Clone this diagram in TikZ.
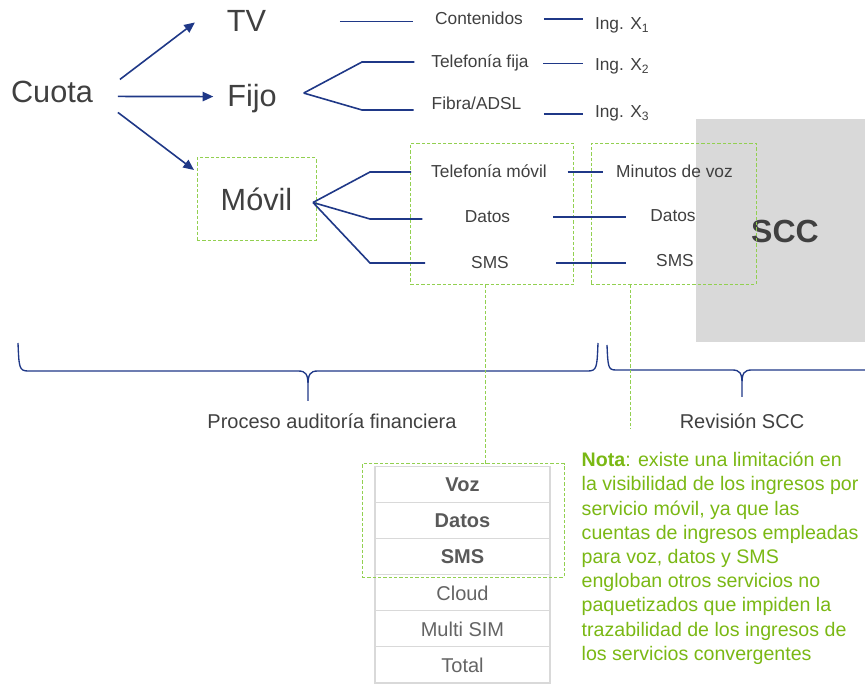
\documentclass[tikz,border=0pt]{standalone}
\usepackage{fontspec}
\setmainfont{Liberation Sans}
\usetikzlibrary{arrows.meta,positioning}
\definecolor{navy}{RGB}{31,56,135}
\definecolor{lgreen}{RGB}{146,208,80}
\definecolor{ngreen}{RGB}{122,184,20}
\definecolor{dgray}{RGB}{64,64,64}
\definecolor{mgray}{RGB}{89,89,89}
\definecolor{rgray}{RGB}{100,100,100}
\definecolor{cellline}{RGB}{217,217,217}
\definecolor{sccgray}{RGB}{217,217,217}
\begin{document}
\begin{tikzpicture}[x=0.75pt,y=-0.75pt,
      every node/.style={inner sep=0pt,outer sep=0pt,text=dgray},
      big/.style={anchor=base,font=\fontsize{23}{23}\selectfont},
      lbl/.style={anchor=base,font=\fontsize{13}{13}\selectfont},
      ln/.style={navy,line width=1.2pt},
      arr/.style={ln,-{Triangle[length=8pt,width=7pt]}},
      brc/.style={navy,line width=1pt},
      grn/.style={lgreen,line width=0.75pt,dash pattern=on 2.5pt off 1.5pt},
      grnbox/.style={draw=lgreen,line width=0.75pt,dash pattern=on 2.5pt off 1.5pt},
      cell/.style={draw=cellline,line width=0.8pt,minimum width=131.25pt,
        minimum height=27.04pt,text=rgray,font=\fontsize{15}{15}\selectfont},
      bcell/.style={cell,text=mgray,font=\fontsize{15}{15}\selectfont\bfseries}]
      \path[use as bounding box](0,0)rectangle(865,684);
      \clip(0,0)rectangle(865,684);
      \fill[sccgray](696,119.5)rectangle(870,342.5);
      \node[anchor=base,font=\fontsize{24}{24}\selectfont\bfseries](scc)at(785,243){SCC};
      \node[big](cuota)at(52,103){Cuota};
      \node[big](tv)at(246.5,32){TV};
      \node[big](fijo)at(252,107){Fijo};
      \node[grnbox,minimum width=89.25pt,minimum height=62.25pt,
        font=\fontsize{23}{23}\selectfont](movil)at(256.5,199.5){Móvil};
      \draw[arr]([shift={(27,-13)}]cuota.east)--([shift={(-32,1)}]tv.west);
      \draw[arr]([shift={(25,4)}]cuota.east)--([shift={(-14,-2.5)}]fijo.west);
      \draw[arr]([shift={(25,20)}]cuota.east)--([shift={(-3,12)}]movil.north west);
      \node[lbl](cont)at(479,25){Contenidos};
      \node[lbl](telfija)at(480,68){Telefonía fija};
      \node[lbl](fibra)at(476.5,110){Fibra/ADSL};
      \node[lbl,anchor=base west](ing1)at(595,30){Ing. X\textsubscript{1}};
      \node[lbl,anchor=base west](ing2)at(595,71){Ing. X\textsubscript{2}};
      \node[lbl,anchor=base west](ing3)at(595,118){Ing. X\textsubscript{3}};
      \draw[ln,shorten <=55.4pt,shorten >=16.3pt](tv.east)--(tv.east -| cont.west);
      \coordinate(fv)at([shift={(27,-6)}]fijo.east);
      \coordinate(e1)at(362,62);
      \coordinate(e2)at(362,110);
      \draw[ln,shorten >=12.7pt](fv)--(e1)--(e1 -| telfija.west);
      \draw[ln,shorten >=13.6pt](fv)--(e2)--(e2 -| fibra.west);
      \draw[ln,shorten <=15.8pt,shorten >=9pt](cont.east)--(cont.east -| ing1.west);
      \draw[ln,shorten <=10.8pt,shorten >=9pt](telfija.east)--(telfija.east -| ing2.west);
      \draw[ln,shorten <=17pt,shorten >=9pt](fibra.east |- ing3.west)--(ing3.west);
      \node[grnbox,minimum width=122.5pt,minimum height=105.75pt](boxA)at(492.25,213.8){};
      \node[grnbox,minimum width=123.75pt,minimum height=105.75pt](boxB)at(673.5,213.8){};
      \node[lbl](telmov)at(489,178){Telefonía móvil};
      \node[lbl](datosA)at(487.5,223){Datos};
      \node[lbl](smsA)at(490,269){SMS};
      \node[lbl](minutos)at(674.5,177.7){Minutos de voz};
      \node[lbl](datosB)at(673,222){Datos};
      \node[lbl](smsB)at(675,267){SMS};
      \coordinate(mv)at([shift={(-3,3)}]movil.east);
      \coordinate(m1)at(370,172);
      \coordinate(m2)at(370,219);
      \coordinate(m3)at(370,263);
      \draw[ln,shorten >=15pt](mv)--(m1)--(m1 -| telmov.west);
      \draw[ln,shorten >=31.8pt](mv)--(m2)--(m2 -| datosA.west);
      \draw[ln,shorten >=34.5pt](mv)--(m3)--(m3 -| smsA.west);
      \draw[ln,shorten <=15.6pt,shorten >=10.1pt](telmov.east)--(telmov.east -| minutos.west);
      \draw[ln,shorten <=32.2pt,shorten >=18.3pt](datosA.east)--(datosA.east -| datosB.west);
      \draw[ln,shorten <=35.4pt,shorten >=22.6pt](smsA.east)--(smsA.east -| smsB.west);
      \draw[brc](18,343)..controls(19,367)and(19,371)..(28,371)--(298,371)
        ..controls(306,371)and(308,374)..(308,386)--(308,401)--(308,386)
        ..controls(308,374)and(310,371)..(318,371)--(588,371)
        ..controls(597,371)and(597,367)..(598,343);
      \draw[brc](607,345)..controls(608,367)and(608,370)..(616,370)--(732,370)
        ..controls(740,370)and(742,373)..(742,384)--(742,397)--(742,384)
        ..controls(742,373)and(744,370)..(752,370)--(868,370)
        ..controls(876,370)and(876,367)..(877,345);
      \node[anchor=base,font=\fontsize{15}{15}\selectfont](proceso)at(332,429)
      {Proceso auditoría financiera};
      \node[anchor=base,font=\fontsize{15}{15}\selectfont](revision)at(742,429)
      {Revisión SCC};
      \node[bcell](voz)at(462.5,484.7){Voz};
      \node[bcell,below=0pt of voz](datosT){Datos};
      \node[bcell,below=0pt of datosT](smsT){SMS};
      \node[cell,below=0pt of smsT](cloud){Cloud};
      \node[cell,below=0pt of cloud](multi){Multi SIM};
      \node[cell,below=0pt of multi](total){Total};
      \node[grnbox,minimum width=151.5pt,minimum height=84.75pt](tabbox)at(463,520.5){};
      \draw[grn]([xshift=-4.7pt]boxA.south)--([xshift=-4.7pt]boxA.south |- tabbox.north);
      \draw[grn]([xshift=-32.6pt]boxB.south)--([xshift=-32.6pt]boxB.south |- revision.south);
      \node[anchor=north west,align=left,text=ngreen,
        font=\fontsize{14.7}{18.15}\selectfont](nota)at(581.7,452.3)
      {\textbf{Nota}: existe una limitación en\\
        la visibilidad de los ingresos por\\
        servicio móvil, ya que las\\
        cuentas de ingresos empleadas\\
        para voz, datos y SMS\\
        engloban otros servicios no\\
        paquetizados que impiden la\\
        trazabilidad de los ingresos de\\
        los servicios convergentes};
    \end{tikzpicture}
\end{document}
